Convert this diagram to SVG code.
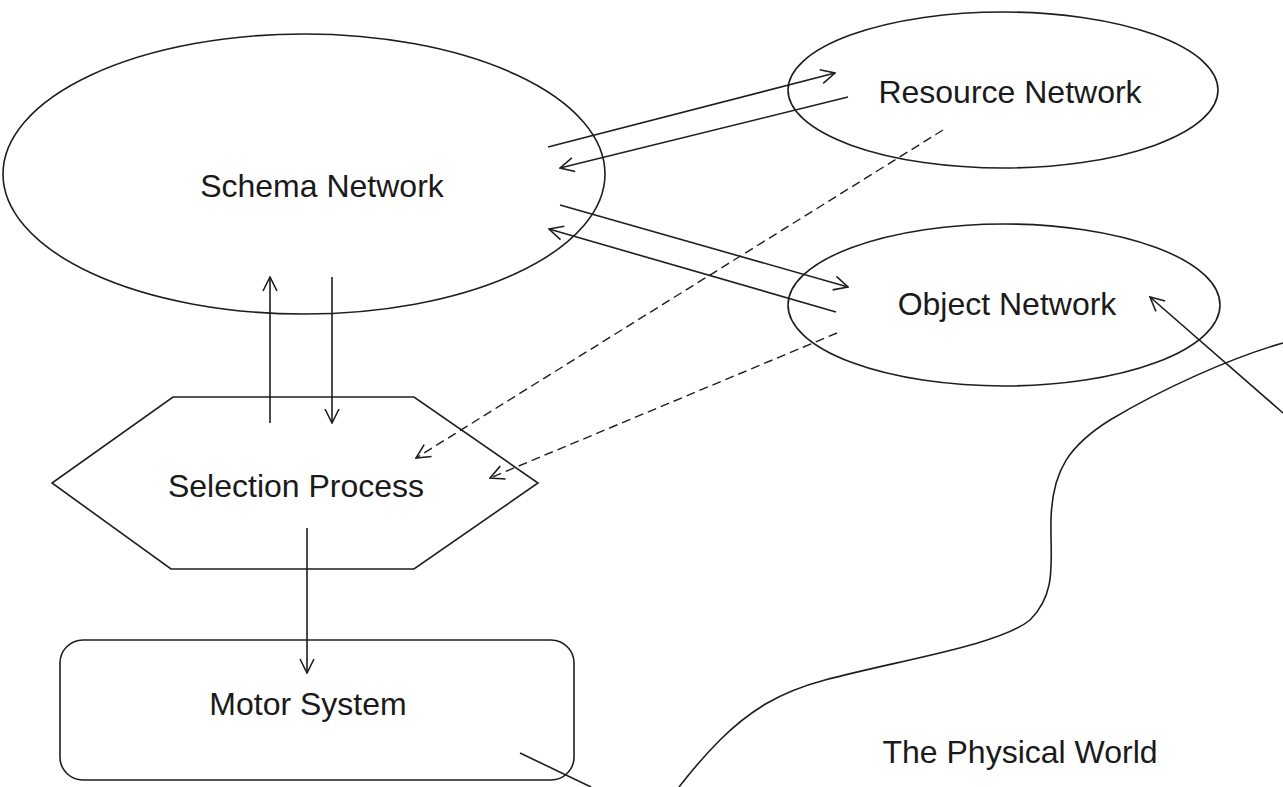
<svg xmlns="http://www.w3.org/2000/svg" width="1283" height="787" viewBox="0 0 1283 787">
  <style>
    .shape { fill: none; stroke: #1e1e1e; stroke-width: 1.6; }
    .conn { fill: none; stroke: #1e1e1e; stroke-width: 1.6; }
    .dashed { stroke-dasharray: 9 5; stroke-width: 1.4; }
    .label { font-family: "Liberation Sans", Arial, sans-serif; font-size: 32px; fill: #1a1a1a; text-anchor: middle; }
  </style>
  <defs>
    <marker id="open-arrow" viewBox="0 0 16 16" refX="15" refY="8" markerWidth="16" markerHeight="16" markerUnits="userSpaceOnUse" orient="auto">
      <path d="M1,1 L15,8 L1,15" fill="none" stroke="#1e1e1e" stroke-width="1.6"/>
    </marker>
  </defs>

  <rect x="0" y="0" width="1283" height="787" fill="#ffffff"/>

  <!-- boundary of the physical world -->
  <g id="physical-world">
    <path class="shape" d="M1283,343 C1230,358 1160,390 1110,420 C1070,445 1052,470 1051,520 C1050,560 1058,592 1030,620 C1000,645 900,660 825,680 C780,692 750,710 720,740 C700,760 686,778 679,787"/>
    <text class="label" x="1020" y="763">The Physical World</text>
  </g>

  <g id="schema-network">
    <ellipse class="shape" cx="304" cy="174" rx="301" ry="140"/>
    <text class="label" x="322" y="197">Schema Network</text>
  </g>

  <g id="resource-network">
    <ellipse class="shape" cx="1003" cy="90" rx="215" ry="78"/>
    <text class="label" x="1010" y="103">Resource Network</text>
  </g>

  <g id="object-network">
    <ellipse class="shape" cx="1004" cy="305" rx="216" ry="81"/>
    <text class="label" x="1007" y="315">Object Network</text>
  </g>

  <g id="selection-process">
    <polygon class="shape" points="173,397 414,397 538,483 414,569 171,569 52,483"/>
    <text class="label" x="296" y="497">Selection Process</text>
  </g>

  <g id="motor-system">
    <rect class="shape" x="60" y="640" width="514" height="140" rx="23" ry="23"/>
    <text class="label" x="308" y="715">Motor System</text>
  </g>

  <g id="connectors">
    <line class="conn" x1="548" y1="147" x2="835" y2="73" marker-end="url(#open-arrow)"/>
    <line class="conn" x1="848" y1="97" x2="560" y2="168" marker-end="url(#open-arrow)"/>
    <line class="conn" x1="560" y1="205" x2="848" y2="287" marker-end="url(#open-arrow)"/>
    <line class="conn" x1="836" y1="312" x2="549" y2="229" marker-end="url(#open-arrow)"/>
    <line class="conn" x1="270" y1="423" x2="270" y2="277" marker-end="url(#open-arrow)"/>
    <line class="conn" x1="332" y1="277" x2="332" y2="423" marker-end="url(#open-arrow)"/>
    <line class="conn dashed" x1="943" y1="130" x2="416" y2="458" marker-end="url(#open-arrow)"/>
    <line class="conn dashed" x1="837" y1="333" x2="490" y2="478" marker-end="url(#open-arrow)"/>
    <line class="conn" x1="307" y1="528" x2="307" y2="673" marker-end="url(#open-arrow)"/>
    <line class="conn" x1="1283" y1="413" x2="1150" y2="297" marker-end="url(#open-arrow)"/>
    <line class="conn" x1="520" y1="753" x2="591" y2="787"/>
  </g>
</svg>
